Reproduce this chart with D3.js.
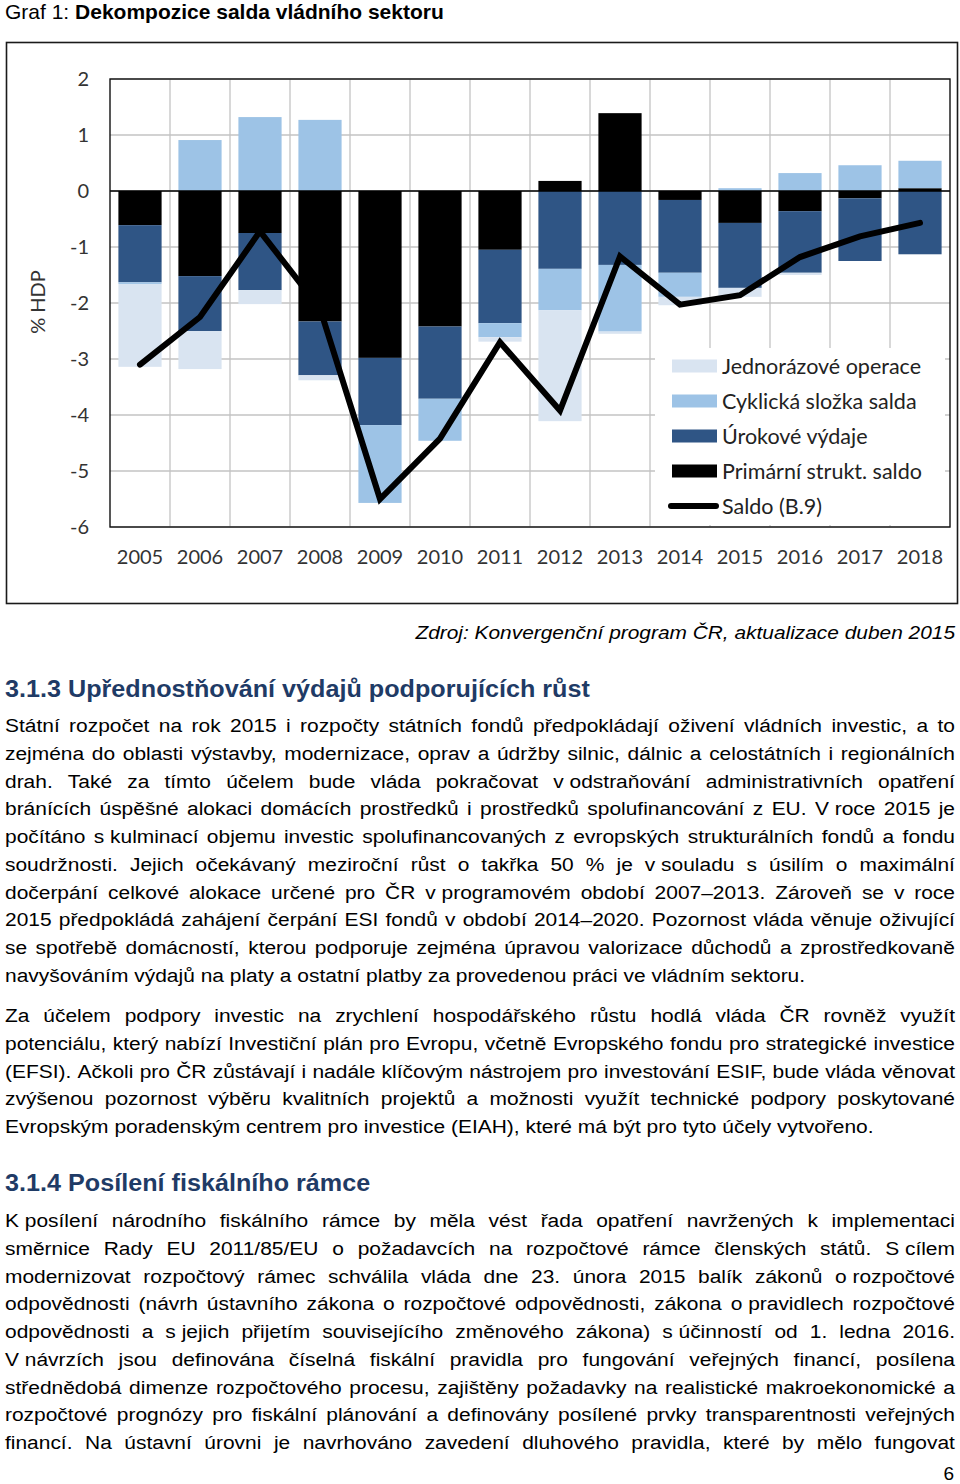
<!DOCTYPE html>
<html><head><meta charset="utf-8">
<script src="https://cdn.jsdelivr.net/npm/d3@7"></script>
<style>body{margin:0;background:#fff}svg{display:block}</style>
</head><body>
<svg id="page" width="960" height="1484"></svg>
<script>
// ---------- data ----------
const years = [2005,2006,2007,2008,2009,2010,2011,2012,2013,2014,2015,2016,2017,2018];
const primary  = [-0.61,-1.52,-0.75,-2.33,-2.98,-2.42,-1.05, 0.18, 1.39,-0.16,-0.57,-0.36,-0.13, 0.05];
const interest = [-1.02,-0.98,-1.02,-0.96,-1.20,-1.29,-1.31,-1.39,-1.32,-1.30,-1.16,-1.10,-1.12,-1.13];
const cyclical = [-0.03, 0.91, 1.32, 1.27,-1.39,-0.75,-0.25,-0.74,-1.19,-0.43, 0.05, 0.32, 0.46, 0.49];
const oneoff   = [-1.48,-0.68,-0.25,-0.09, 0.00, 0.00,-0.08,-1.98,-0.04,-0.15,-0.16,-0.04, 0.00, 0.00];
const saldo    = [-3.10,-2.25,-0.72,-2.10,-5.50,-4.42,-2.70,-3.92,-1.17,-2.03,-1.86,-1.18,-0.81,-0.57];
const yTicks = [2,1,0,-1,-2,-3,-4,-5,-6];
const seriesKeys = ["primary","interest","cyclical","oneoff"];
const seriesNames = {oneoff:"Jednorázové operace", cyclical:"Cyklická složka salda", interest:"Úrokové výdaje", primary:"Primární strukt. saldo"};
const lineName = "Saldo (B.9)";
const colors = {primary:"#000000", interest:"#2f5585", cyclical:"#9dc3e6", oneoff:"#d9e4f1"};
const legendOrder = ["oneoff","cyclical","interest","primary"];

const titleRegular = "Graf 1: ";
const titleBold = "Dekompozice salda vládního sektoru";
const yLabel = "% HDP";
const source = "Zdroj: Konvergenční program ČR, aktualizace duben 2015";
const heading1 = "3.1.3 Upřednostňování výdajů podporujících růst";
const heading2 = "3.1.4 Posílení fiskálního rámce";
const para1 = [
 "Státní rozpočet na rok 2015 i rozpočty státních fondů předpokládají oživení vládních investic, a to",
 "zejména do oblasti výstavby, modernizace, oprav a údržby silnic, dálnic a celostátních i regionálních",
 "drah. Také za tímto účelem bude vláda pokračovat v\u00a0odstraňování administrativních opatření",
 "bránících úspěšné alokaci domácích prostředků i prostředků spolufinancování z EU. V\u00a0roce 2015 je",
 "počítáno s\u00a0kulminací objemu investic spolufinancovaných z evropských strukturálních fondů a fondu",
 "soudržnosti. Jejich očekávaný meziroční růst o takřka 50 % je v\u00a0souladu s úsilím o maximální",
 "dočerpání celkové alokace určené pro ČR v\u00a0programovém období 2007–2013. Zároveň se v roce",
 "2015 předpokládá zahájení čerpání ESI fondů v období 2014–2020. Pozornost vláda věnuje oživující",
 "se spotřebě domácností, kterou podporuje zejména úpravou valorizace důchodů a zprostředkovaně",
 "navyšováním výdajů na platy a ostatní platby za provedenou práci ve vládním sektoru."
];
const para2 = [
 "Za účelem podpory investic na zrychlení hospodářského růstu hodlá vláda ČR rovněž využít",
 "potenciálu, který nabízí Investiční plán pro Evropu, včetně Evropského fondu pro strategické investice",
 "(EFSI). Ačkoli pro ČR zůstávají i nadále klíčovým nástrojem pro investování ESIF, bude vláda věnovat",
 "zvýšenou pozornost výběru kvalitních projektů a možnosti využít technické podpory poskytované",
 "Evropským poradenským centrem pro investice (EIAH), které má být pro tyto účely vytvořeno."
];
const para3 = [
 "K\u00a0posílení národního fiskálního rámce by měla vést řada opatření navržených k implementaci",
 "směrnice Rady EU 2011/85/EU o požadavcích na rozpočtové rámce členských států. S\u00a0cílem",
 "modernizovat rozpočtový rámec schválila vláda dne 23. února 2015 balík zákonů o\u00a0rozpočtové",
 "odpovědnosti (návrh ústavního zákona o rozpočtové odpovědnosti, zákona o\u00a0pravidlech rozpočtové",
 "odpovědnosti a s\u00a0jejich přijetím souvisejícího změnového zákona) s\u00a0účinností od 1. ledna 2016.",
 "V\u00a0návrzích jsou definována číselná fiskální pravidla pro fungování veřejných financí, posílena",
 "střednědobá dimenze rozpočtového procesu, zajištěny požadavky na realistické makroekonomické a",
 "rozpočtové prognózy pro fiskální plánování a definovány posílené prvky transparentnosti veřejných",
 "financí. Na ústavní úrovni je navrhováno zavedení dluhového pravidla, které by mělo fungovat"
];
const pageNum = "6";

// ---------- setup ----------
const svg = d3.select("#page");
const chartFont = "Lato, 'Open Sans', sans-serif";
const bodyFont = "'Liberation Sans', Arial, sans-serif";

const plot = {left:110, right:950, top:79, bottom:527};
const x = d3.scaleBand().domain(years).range([plot.left, plot.right]).paddingInner(0.28).paddingOuter(0.14);
const y = d3.scaleLinear().domain([-6, 2]).range([plot.bottom, plot.top]);

// outer frame
svg.append("rect").attr("x",6.5).attr("y",42.5).attr("width",951).attr("height",561)
  .attr("fill","none").attr("stroke","#1a1a1a").attr("stroke-width",1.6);

// gridlines
const grid = svg.append("g");
grid.selectAll("line.h").data(yTicks).join("line")
  .attr("x1",plot.left).attr("x2",plot.right).attr("y1",d=>y(d)).attr("y2",d=>y(d))
  .attr("stroke","#c3c3c3").attr("stroke-width",1.3);
const half = (x.step()-x.bandwidth())/2;
grid.selectAll("line.v").data(years.slice(1)).join("line")
  .attr("x1",d=>x(d)-half).attr("x2",d=>x(d)-half).attr("y1",plot.top).attr("y2",plot.bottom)
  .attr("stroke","#c3c3c3").attr("stroke-width",1.3);

// stacked bars
const table = years.map((yr,i)=>({year:yr, primary:primary[i], interest:interest[i], cyclical:cyclical[i], oneoff:oneoff[i]}));
const stack = d3.stack().keys(seriesKeys).offset(d3.stackOffsetDiverging);
const stacked = stack(table);
svg.append("g").selectAll("g").data(stacked).join("g")
  .attr("fill",d=>colors[d.key])
  .selectAll("rect").data(d=>d).join("rect")
  .attr("x",d=>x(d.data.year)).attr("width",x.bandwidth())
  .attr("y",d=>y(Math.max(d[0],d[1]))).attr("height",d=>Math.abs(y(d[0])-y(d[1])));

// zero line + plot border
svg.append("line").attr("x1",plot.left).attr("x2",plot.right).attr("y1",y(0)).attr("y2",y(0))
  .attr("stroke","#000").attr("stroke-width",1.3);
svg.append("rect").attr("x",plot.left).attr("y",plot.top).attr("width",plot.right-plot.left).attr("height",plot.bottom-plot.top)
  .attr("fill","none").attr("stroke","#111").attr("stroke-width",1.4);

// saldo line
const line = d3.line().x((d,i)=>x(years[i])+x.bandwidth()/2).y(d=>y(d));
svg.append("path").datum(saldo).attr("d",line).attr("fill","none").attr("stroke","#000")
  .attr("stroke-width",6).attr("stroke-linecap","round").attr("stroke-linejoin","miter");

// y axis labels
svg.append("g").selectAll("text").data(yTicks).join("text")
  .attr("x",89).attr("y",d=>y(d)).attr("dy","0.35em").attr("text-anchor","end")
  .attr("font-family",chartFont).attr("font-size",20).attr("fill","#333").text(d=>d);
// x axis labels
svg.append("g").selectAll("text").data(years).join("text")
  .attr("x",d=>x(d)+x.bandwidth()/2).attr("y",564).attr("text-anchor","middle")
  .attr("font-family",chartFont).attr("font-size",20).attr("fill","#333").text(d=>d);
// y title
svg.append("text").attr("transform","translate(45,302) rotate(-90)").attr("text-anchor","middle")
  .attr("font-family",chartFont).attr("font-size",20).attr("fill","#333").text(yLabel);

// legend
const lg = svg.append("g");
lg.append("rect").attr("x",655).attr("y",348).attr("width",290).attr("height",177).attr("fill","#fff");
const legItems = legendOrder.map(k=>({type:"bar",key:k,name:seriesNames[k]})).concat([{type:"line",name:lineName}]);
const li = lg.selectAll("g").data(legItems).join("g").attr("transform",(d,i)=>`translate(0,${366+i*35})`);
li.filter(d=>d.type==="bar").append("rect").attr("x",672).attr("y",-6.5).attr("width",45).attr("height",13).attr("fill",d=>colors[d.key]);
li.filter(d=>d.type==="line").append("line").attr("x1",671).attr("x2",716).attr("y1",0).attr("y2",0)
  .attr("stroke","#000").attr("stroke-width",6).attr("stroke-linecap","round");
li.append("text").attr("x",722).attr("dy","0.35em").attr("font-family",chartFont).attr("font-size",21.5).attr("fill","#222").text(d=>d.name);

// ---------- page text ----------
function measure(txt, font, size, weight, style){
  const t = svg.append("text").attr("font-family",font).attr("font-size",size)
    .attr("font-weight",weight||"normal").attr("font-style",style||"normal").text(txt);
  const w = t.node().getComputedTextLength(); t.remove(); return w;
}
// title
const tt = svg.append("text").attr("x",5).attr("y",19).attr("font-family",bodyFont).attr("font-size",21).attr("fill","#000");
tt.append("tspan").text(titleRegular);
tt.append("tspan").attr("font-weight","bold").text(titleBold);

const BODY = 19;
const sBody = 800 / measure(para1[para1.length-1], bodyFont, BODY);
function drawLine(text, baseY, justify, size, weight, color, s){
  const words = text.split(" ");
  const ws = words.map(w=>measure(w, bodyFont, size, weight)*s);
  const spaceW = (measure("a a", bodyFont, size, weight)-measure("aa", bodyFont, size, weight))*s;
  const total = d3.sum(ws);
  const gap = (justify && words.length>1) ? (950 - total)/(words.length-1) : spaceW;
  let cx = 5;
  words.forEach((w,i)=>{
    svg.append("text").attr("transform",`translate(${cx},${baseY}) scale(${s},1)`)
      .attr("font-family",bodyFont).attr("font-size",size).attr("font-weight",weight||"normal")
      .attr("fill",color||"#000").text(w);
    cx += ws[i] + gap;
  });
}
function drawPara(lines, firstBase, lastJustified){
  lines.forEach((l,i)=>drawLine(l, firstBase + i*27.75, (i<lines.length-1)||lastJustified, BODY, "normal", "#000", sBody));
}
// source (italic, right aligned)
const sSrc = 540 / measure(source, bodyFont, BODY, "normal", "italic");
svg.append("text").attr("transform",`translate(955,639) scale(${sSrc},1)`).attr("text-anchor","end")
  .attr("font-family",bodyFont).attr("font-size",BODY).attr("font-style","italic").attr("fill","#000").text(source);

// headings
const H = 24;
const sH = 585 / measure(heading1, bodyFont, H, "bold");
svg.append("text").attr("transform",`translate(5,697) scale(${sH},1)`).attr("font-family",bodyFont)
  .attr("font-size",H).attr("font-weight","bold").attr("fill","#1f3b66").text(heading1);
svg.append("text").attr("transform",`translate(5,1191) scale(${sH},1)`).attr("font-family",bodyFont)
  .attr("font-size",H).attr("font-weight","bold").attr("fill","#1f3b66").text(heading2);

drawPara(para1, 732, false);
drawPara(para2, 1022, false);
drawPara(para3, 1227, true);

svg.append("text").attr("x",954).attr("y",1480).attr("text-anchor","end").attr("font-family",bodyFont)
  .attr("font-size",BODY).attr("fill","#000").text(pageNum);
</script>
</body></html>
